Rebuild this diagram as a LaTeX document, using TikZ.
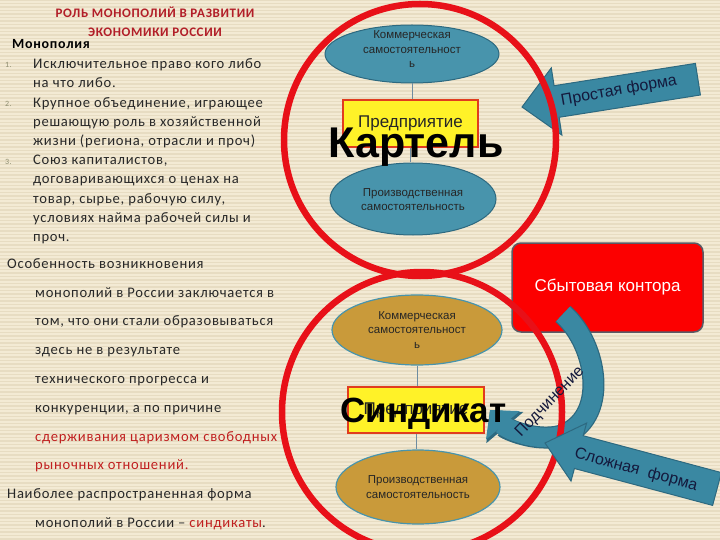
\documentclass[tikz,border=0pt]{standalone}
\usepackage{fontspec}
\setmainfont{Liberation Sans}
\newfontfamily\lt[LetterSpace=5]{Carlito}
\usetikzlibrary{shapes.geometric,arrows.meta}
\definecolor{bgc}{RGB}{243,234,212}
\definecolor{stripe}{RGB}{231,220,194}
\definecolor{ringred}{RGB}{232,16,24}
\definecolor{tealf}{RGB}{72,148,172}
\definecolor{teald}{RGB}{45,105,128}
\definecolor{arrowf}{RGB}{58,136,162}
\definecolor{goldf}{RGB}{201,154,58}
\definecolor{yel}{RGB}{255,242,40}
\definecolor{rectb}{RGB}{225,60,30}
\definecolor{boxred}{RGB}{252,0,0}
\definecolor{boxedge}{RGB}{90,90,100}
\definecolor{txt}{RGB}{40,40,40}
\definecolor{redtxt}{RGB}{192,32,32}
\definecolor{titlered}{RGB}{178,30,40}
\definecolor{numgrey}{RGB}{140,140,110}
\definecolor{navy}{RGB}{20,25,60}
\definecolor{connc}{RGB}{110,140,160}
\tikzset{
  ring/.style={draw=ringred, line width=6.5pt},
  ellT/.style={ellipse, draw=teald, line width=1pt, fill=tealf, inner sep=0pt},
  ellG/.style={ellipse, draw=tealf, line width=1.2pt, fill=goldf, inner sep=0pt},
  etext/.style={align=center, text=black!85, font=\fontsize{11.5}{14.5}\selectfont, inner sep=0pt},
  yrect/.style={draw=rectb, line width=1.5pt, fill=yel, inner sep=0pt},
  conn/.style={draw=connc, line width=0.8pt},
  bigtext/.style={font=\bfseries\fontsize{43}{43}\selectfont, text=black, inner sep=0pt, anchor=base},
  blockarrow/.style={fill=arrowf, draw=teald, line width=1pt, line join=miter},
  arrtext/.style={text=navy, font=\fontsize{16}{18}\selectfont, inner sep=0pt},
  lt/.style={font=\lt\fontsize{14.6}{16}\selectfont, text=txt, inner sep=0pt, anchor=base west},
  ltb/.style={font=\lt\bfseries\fontsize{14}{16}\selectfont, text=black, inner sep=0pt, anchor=base west},
  ttl/.style={font=\lt\bfseries\fontsize{13}{14}\selectfont, text=titlered, inner sep=0pt, anchor=base},
  num/.style={font=\lt\fontsize{8}{9}\selectfont, text=numgrey, inner sep=0pt, anchor=base west},
}
\begin{document}
\begin{tikzpicture}[x=1pt,y=-1pt]
\useasboundingbox (0,0) rectangle (720,540);
\fill[bgc] (0,0) rectangle (720,540);
\foreach \i in {0,...,154} \draw[stripe, line width=1.6pt] (0,{\i*3.5}) -- (720,{\i*3.5});

% Простая форма arrow
\path[blockarrow] (522,107) -- (551.3,67.9) -- (554.1,85.7) -- (695.4,63.4) -- (700.4,95.0) -- (559.1,117.3) -- (561.9,135.1) -- cycle;
\node[arrtext, rotate=10] (pf) at (619,91) {Простая форма};

% Сбытовая контора
\node[draw=boxedge, line width=1.5pt, fill=boxred, rounded corners=9pt, minimum width=191pt, minimum height=89pt, text=white, font=\fontsize{17}{20}\selectfont] (sb) at (607.5,287.5) {Сбытовая контора};

% curved arrow (Подчинение)
\coordinate (cs) at (563,314);
\coordinate (ce) at (490,410);
\draw[line width=22pt, teald, -{Triangle[width=47pt,length=23pt]}] (cs) .. controls (598,345) and (610,420) .. (560,436) .. controls (535,442) and (506,429) .. (ce);
\draw[line width=19.5pt, arrowf, -{Triangle[width=43pt,length=20pt]}] (cs) .. controls (598,345) and (610,420) .. (560,436) .. controls (535,442) and (506,429) .. (ce);

% rings
\draw[ring] (420,140) circle[radius=136pt];
\draw[ring] (422,412) circle[radius=140pt];

% Картель group
\node[ellT, minimum width=174pt, minimum height=58pt] (e1) at (412,54) {};
\node[etext] (e1t) at (412,49.5) {Коммерческая\\самостоятельност\\ь};
\node[yrect, minimum width=135pt, minimum height=47pt, font=\fontsize{17}{20}\selectfont, text=black!85] (r1) at (410.5,123.5) {Предприятие};
\node[ellT, minimum width=166pt, minimum height=72pt] (e2) at (413,199) {};
\node[etext] (e2t) at (413,199.5) {Производственная\\самостоятельность};
\draw[conn] (e1.south) -- (e1.south |- r1.north);
\draw[conn] (r1.south) -- (r1.south |- e2.north);
\node[bigtext] (kart) at (416,158) {Картель};

% Синдикат group
\node[ellG, minimum width=170pt, minimum height=70pt, etext] (e3) at (417,330) {Коммерческая\\самостоятельност\\ь};
\node[yrect, minimum width=136pt, minimum height=46pt, font=\fontsize{17}{20}\selectfont, text=black!85] (r2) at (416,410) {Предприятие};
\node[ellG, minimum width=164pt, minimum height=74pt, etext] (e4) at (418,487) {Производственная\\самостоятельность};
\draw[conn] (e3.south) -- (e3.south |- r2.north);
\draw[conn] (r2.south) -- (r2.south |- e4.north);
\node[bigtext, font=\bfseries\fontsize{35}{35}\selectfont] (sind) at (423.5,422) {Синдикат};

% Сложная форма arrow
\path[blockarrow] (545,443) -- (586.6,423.1) -- (583.2,435.7) -- (721.4,472.6) -- (712.6,505.4) -- (574.4,468.5) -- (571,481.1) -- cycle;
\node[arrtext, rotate=-15] (sf) at (636,470) {Сложная\ \ форма};
\node[arrtext, rotate=46] (pod) at (550,402) {Подчинение};

% left text
\node[ttl] (t1) at (155,18) {РОЛЬ МОНОПОЛИЙ В РАЗВИТИИ};
\node[ttl] (t2) at (155,36.5) {ЭКОНОМИКИ РОССИИ};
\node[ltb] (mon) at (12,49) {Монополия};
\node[num] (n1) at (5,68) {1.};
\node[num] (n2) at (5,107) {2.};
\node[num] (n3) at (5,165) {3.};
\node[lt] (a1) at (33,69) {Исключительное право кого либо};
\node[lt] (a2) at (33,88) {на что либо.};
\node[lt] (a3) at (33,107.5) {Крупное объединение, играющее};
\node[lt] (a4) at (33,126.5) {решающую роль в хозяйственной};
\node[lt] (a5) at (33,146) {жизни (региона, отрасли и проч)};
\node[lt] (a6) at (33,165) {Союз капиталистов,};
\node[lt] (a7) at (33,184) {договаривающихся о ценах на};
\node[lt] (a8) at (33,203.5) {товар, сырье, рабочую силу,};
\node[lt] (a9) at (33,222.5) {условиях найма рабочей силы и};
\node[lt] (a10) at (33,241.5) {проч.};
\node[lt] (b1) at (7,268) {Особенность возникновения};
\node[lt] (b2) at (35,297) {монополий в России заключается в};
\node[lt] (b3) at (35,325.5) {том, что они стали образовываться};
\node[lt] (b4) at (35,354.5) {здесь не в результате};
\node[lt] (b5) at (35,383) {технического прогресса и};
\node[lt] (b6) at (35,412) {конкуренции, а по причине};
\node[lt, text=redtxt] (b7) at (35,441) {сдерживания царизмом свободных};
\node[lt, text=redtxt] (b8) at (35,469.5) {рыночных отношений.};
\node[lt] (b9) at (7,498.5) {Наиболее распространенная форма};
\node[lt] (b10) at (35,527) {монополий в России – \textcolor{redtxt}{синдикаты}.};
\end{tikzpicture}
\end{document}
